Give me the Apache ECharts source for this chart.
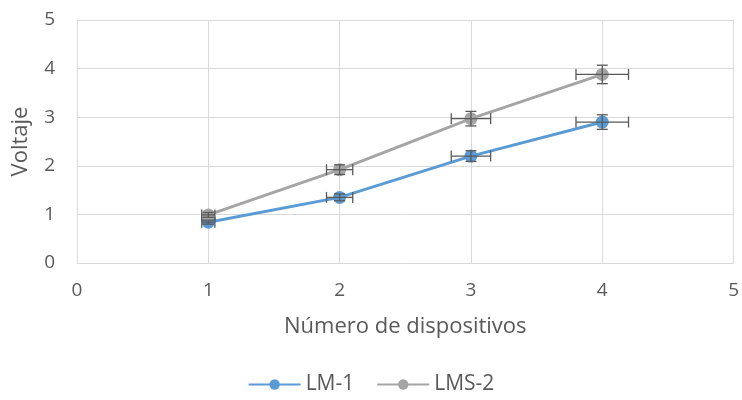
<!DOCTYPE html>
<html><head><meta charset="utf-8">
<script src="https://cdn.jsdelivr.net/npm/echarts@6/dist/echarts.min.js"></script>
<style>html,body{margin:0;padding:0;background:#fff}#c{width:742px;height:400px}</style>
</head><body><div id="c"></div>
<script>
var xValues = [1, 2, 3, 4];
var lm1 = [0.84, 1.35, 2.20, 2.90];
var lms2 = [0.99, 1.92, 2.97, 3.88];
var xErr = [0.05, 0.10, 0.15, 0.20];
var lm1YErr = [0.04, 0.07, 0.11, 0.15];
var lms2YErr = [0.05, 0.10, 0.15, 0.19];
var seriesNames = ['LM-1', 'LMS-2'];
var xTicks = [0, 1, 2, 3, 4, 5];
var yTicks = [0, 1, 2, 3, 4, 5];

var FONT = 'Open Sans';
var TXT = '#595959';
function pairs(ys){ return xValues.map(function(x,i){ return [x, ys[i]]; }); }
function errData(ys, yerr){ return xValues.map(function(x,i){ return [x, ys[i], xErr[i], yerr[i]]; }); }
function errRender(params, api){
  var x = api.value(0), y = api.value(1), ex = api.value(2), ey = api.value(3);
  var c = api.coord([x, y]);
  var l = api.coord([x - ex, y]), r = api.coord([x + ex, y]);
  var t = api.coord([x, y + ey]), b = api.coord([x, y - ey]);
  var cap = 5.5;
  var st = {stroke: '#595959', lineWidth: 1.3, fill: null};
  return {type: 'group', children: [
    {type:'line', shape:{x1:l[0], y1:c[1], x2:r[0], y2:c[1]}, style:st},
    {type:'line', shape:{x1:l[0], y1:c[1]-cap, x2:l[0], y2:c[1]+cap}, style:st},
    {type:'line', shape:{x1:r[0], y1:c[1]-cap, x2:r[0], y2:c[1]+cap}, style:st},
    {type:'line', shape:{x1:c[0], y1:t[1], x2:c[0], y2:b[1]}, style:st},
    {type:'line', shape:{x1:c[0]-cap, y1:t[1], x2:c[0]+cap, y2:t[1]}, style:st},
    {type:'line', shape:{x1:c[0]-cap, y1:b[1], x2:c[0]+cap, y2:b[1]}, style:st}
  ]};
}
var chart = echarts.init(document.getElementById('c'), null, {renderer:'canvas'});
chart.setOption({
  animation: false,
  textStyle: {fontFamily: FONT},
  grid: {left: 77, right: 5, top: 20, bottom: 137},
  legend: {
    data: seriesNames, bottom: 0, left: 'center', itemWidth: 52, itemHeight: 13, itemGap: 22,
    textStyle: {fontFamily: FONT, fontSize: 21, color: TXT}
  },
  xAxis: {
    type: 'value', min: xTicks[0], max: xTicks[xTicks.length-1], interval: 1,
    name: 'Número de dispositivos', nameLocation: 'middle', nameGap: 53,
    nameTextStyle: {fontFamily: FONT, fontSize: 22, color: TXT},
    axisLine: {show: false}, axisTick: {show: false},
    axisLabel: {fontSize: 19, color: TXT, margin: 18},
    splitLine: {show: true, lineStyle: {color: '#d9d9d9', width: 1}}
  },
  yAxis: {
    type: 'value', min: yTicks[0], max: yTicks[yTicks.length-1], interval: 1,
    name: 'Voltaje', nameLocation: 'middle', nameGap: 45,
    nameTextStyle: {fontFamily: FONT, fontSize: 22, color: TXT},
    axisLine: {show: false}, axisTick: {show: false},
    axisLabel: {fontSize: 19, color: TXT, margin: 22},
    splitLine: {show: true, lineStyle: {color: '#d9d9d9', width: 1}}
  },
  series: [
    {name: seriesNames[0], type: 'line', data: pairs(lm1), symbol: 'circle', symbolSize: 13,
     itemStyle: {color: '#5B9BD5'}, lineStyle: {color: '#5B9BD5', width: 3}, z: 3},
    {name: seriesNames[1], type: 'line', data: pairs(lms2), symbol: 'circle', symbolSize: 13,
     itemStyle: {color: '#A5A5A5'}, lineStyle: {color: '#A5A5A5', width: 3}, z: 3},
    {type: 'custom', data: errData(lm1, lm1YErr), renderItem: errRender, z: 4, silent: true,
     encode: {x: 0, y: 1}},
    {type: 'custom', data: errData(lms2, lms2YErr), renderItem: errRender, z: 4, silent: true,
     encode: {x: 0, y: 1}}
  ]
});
</script></body></html>
